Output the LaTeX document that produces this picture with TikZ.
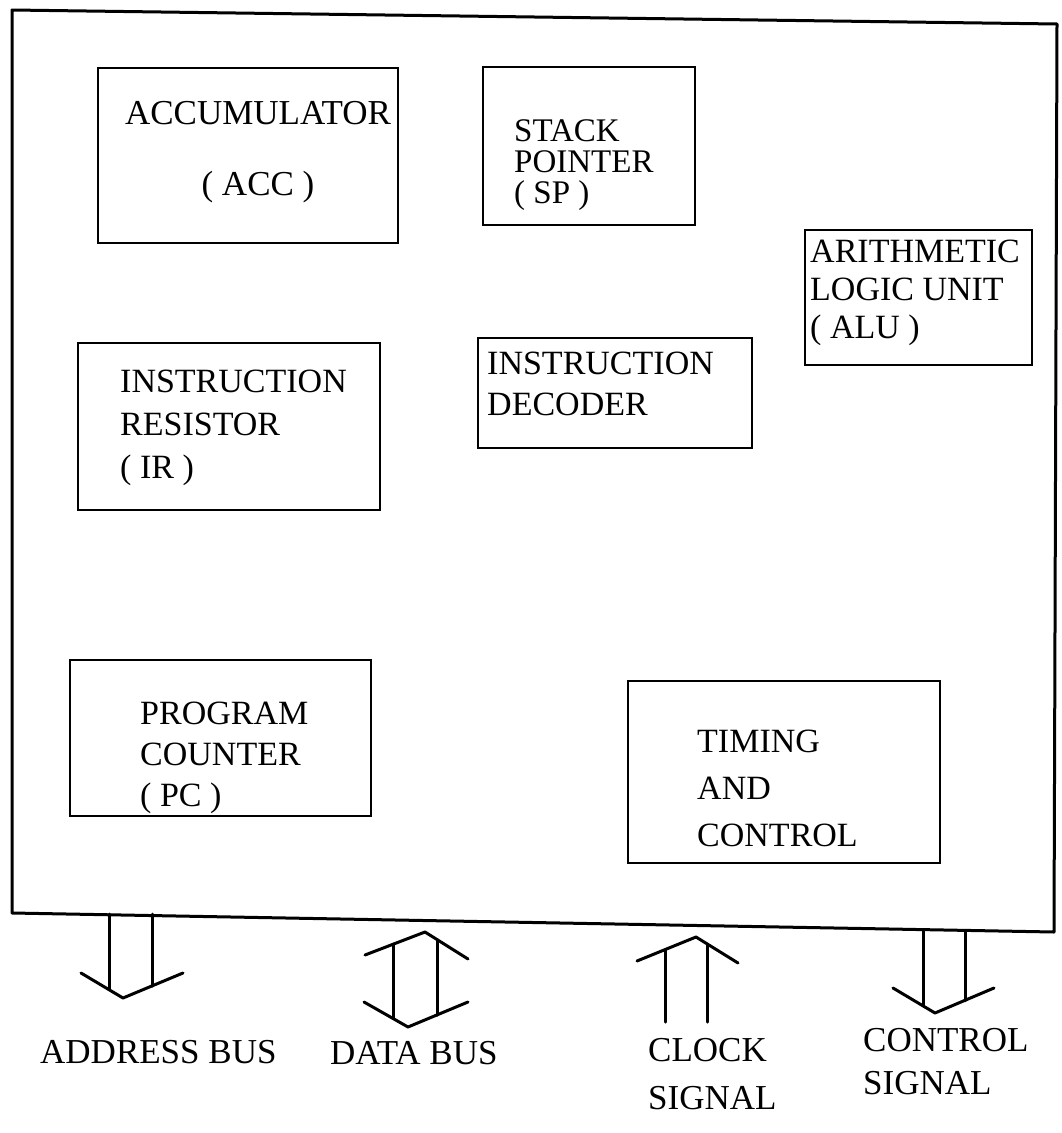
\documentclass[tikz,border=0pt]{standalone}
\usepackage{fontspec}
\setmainfont{Liberation Serif}
\begin{document}
\begin{tikzpicture}[x=1pt,y=-1pt,
  box/.style={draw, line width=2.4pt, inner sep=0pt},
  txt/.style={inner sep=0pt, anchor=north west, align=left},
  bus/.style={line width=3pt, line cap=round, line join=round}]
\useasboundingbox (0,0) rectangle (1061,1133);
% outer frame
\draw[line width=3pt, line join=round] (12,10) -- (1057,24) -- (1054,932) -- (12,913) -- cycle;
% boxes
\node[box, minimum width=300pt, minimum height=175pt] (acc) at (248,155.5) {};
\node[box, minimum width=212pt, minimum height=158pt] (sp) at (589,146) {};
\node[box, minimum width=227pt, minimum height=135pt] (alu) at (918.5,297.5) {};
\node[box, minimum width=302pt, minimum height=167pt] (ir) at (229,426.5) {};
\node[box, minimum width=274pt, minimum height=110pt] (id) at (615,393) {};
\node[box, minimum width=301pt, minimum height=156pt] (pc) at (220.5,738) {};
\node[box, minimum width=312pt, minimum height=182pt] (tc) at (784,772) {};
% texts
\node[txt, anchor=north, align=center, font=\fontsize{35}{71}\selectfont] (acct) at (258,101) {ACCUMULATOR\\( ACC )};
\node[txt, font=\fontsize{33}{31}\selectfont] (spt) at (514,119) {STACK\\POINTER\\( SP )};
\node[txt, font=\fontsize{34}{38}\selectfont] (alut) at (810,240) {ARITHMETIC\\LOGIC UNIT\\( ALU )};
\node[txt, font=\fontsize{34}{43}\selectfont] (irt) at (120,370) {INSTRUCTION\\RESISTOR\\( IR )};
\node[txt, font=\fontsize{34}{41}\selectfont] (idt) at (487,352) {INSTRUCTION\\DECODER};
\node[txt, font=\fontsize{34}{41}\selectfont] (pct) at (140,702) {PROGRAM\\COUNTER\\( PC )};
\node[txt, font=\fontsize{34}{47}\selectfont] (tct) at (697,730) {TIMING\\AND\\CONTROL};
\node[txt, font=\fontsize{35}{48}\selectfont] (abus) at (40,1040) {ADDRESS BUS};
\node[txt, font=\fontsize{35}{48}\selectfont] (dbus) at (330,1041) {DATA BUS};
\node[txt, font=\fontsize{35}{48}\selectfont] (clk) at (648,1038) {CLOCK\\SIGNAL};
\node[txt, font=\fontsize{35}{43}\selectfont] (ctl) at (863,1028) {CONTROL\\SIGNAL};
% address bus (down)
\draw[bus] (109,914) -- (109,989.5);
\draw[bus] (152,914) -- (152,986);
\draw[bus] (81,973) -- (123,998) -- (183,973);
% data bus (both ways)
\draw[bus] (393,944) -- (393,1018.5);
\draw[bus] (437,939.5) -- (437,1015);
\draw[bus] (365,955) -- (425,932) -- (468,959);
\draw[bus] (364,1002) -- (408,1027) -- (468,1002);
% clock signal (up)
\draw[bus] (665,949.5) -- (665,1022);
\draw[bus] (707,944) -- (707,1022);
\draw[bus] (637,961) -- (696,937) -- (738,963);
% control signal (down)
\draw[bus] (923,931) -- (923,1006);
\draw[bus] (965,932) -- (965,1000.5);
\draw[bus] (893,988) -- (935,1013) -- (994,988);
\end{tikzpicture}
\end{document}
